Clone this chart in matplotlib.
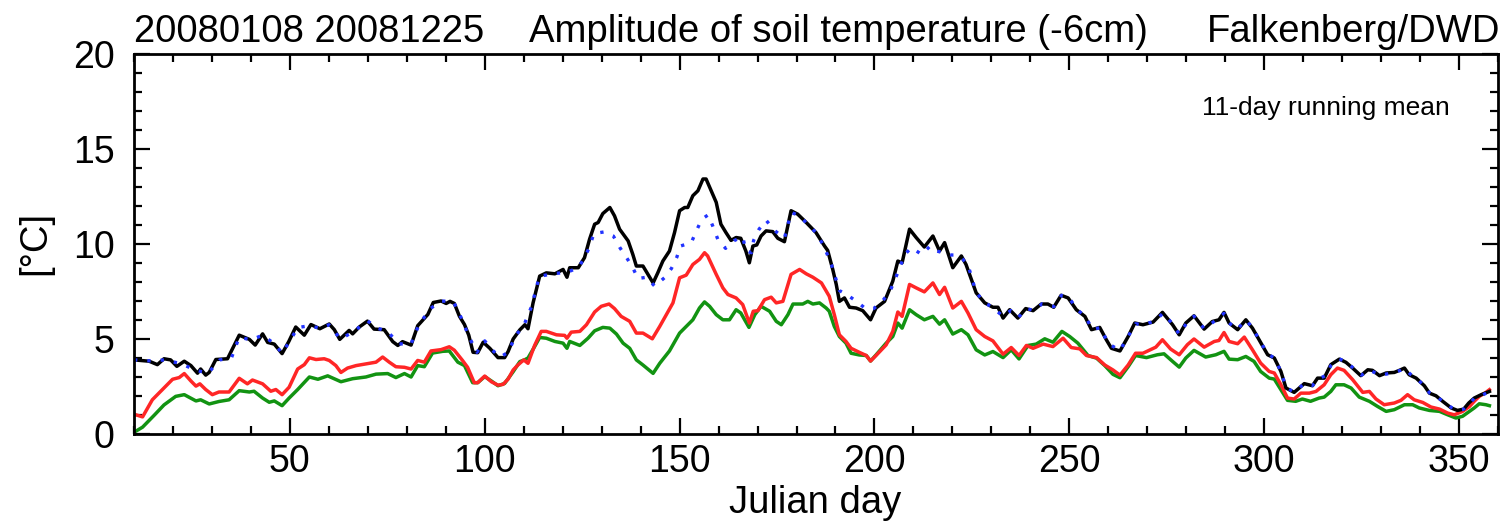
import numpy as np
import matplotlib
matplotlib.use("Agg")
import matplotlib.pyplot as plt
from matplotlib.ticker import MultipleLocator

# daily amplitude of soil temperature at -6cm (11-day running mean), Julian day / degC
black_day = [10, 13.9, 16, 17.7, 19.4, 21, 22.9, 24.6, 26.3, 27.1, 28.4, 29.3, 31, 34, 37, 39.6, 41.1, 43, 44.3, 46,
             48, 49.7, 51.5, 53.7, 55.4, 57.7, 60.1, 61.4, 62.8, 65.2, 66.1, 67.8, 69.9, 71.6, 74.2, 76.4, 77.7, 78.9,
             81.1, 82.8, 85.4, 86.8, 88.8, 90.1, 91.1, 92.2, 93.5, 94.8, 95.9, 97, 98.2, 99.6, 101.3, 103.4, 105.1,
             106, 107.3, 109, 110.3, 111.1, 112.4, 114.1, 115.8, 118, 120.1, 121.1, 121.8, 124, 125.6, 126.9, 128.2,
             129.1, 130.3, 132.1, 133.3, 134.6, 136.8, 138, 138.9, 140.6, 141.9, 143.2, 144.4, 145.7, 147.4, 148.7,
             150, 151.3, 152.1, 153.4, 154.7, 156, 156.8, 158.1, 159.4, 160.6, 161.9, 163.2, 164.5, 165.7, 167,
             167.9, 168.8, 169.8, 170.9, 172.2, 173.9, 175.2, 176.9, 178.6, 180.3, 182.5, 185, 187.2, 188, 189.3,
             190.2, 191, 192.3, 193.6, 195.3, 197, 199, 200.4, 202.6, 204.7, 206, 207.1, 209, 210.7, 212.8, 215,
             216.7, 218, 220.1, 222.3, 223.5, 226.1, 228.3, 230.4, 231.7, 233, 234.7, 236.8, 238.8, 240.7, 242.8,
             244.5, 246, 247.9, 249.7, 251.8, 254, 255.7, 257.8, 259.5, 260.8, 263, 265.1, 266.8, 268.9, 271.5,
             273.9, 276.5, 278.2, 279.9, 282, 284.6, 286.7, 288.4, 289.7, 291, 293.2, 295.3, 297, 299.1, 300.9,
             302.6, 304.3, 305.6, 307.7, 310.3, 312.4, 313.7, 315.4, 317.1, 319.3, 321, 322.7, 324.8, 326.6, 327.8,
             329.6, 331.3, 333.4, 334.7, 336, 337.2, 339, 341.1, 342.4, 344.1, 345.8, 348, 349.6, 351.2, 352.5,
             353.9, 355.7, 357.8]
black_val = [3.9, 3.83, 3.65, 3.96, 3.9, 3.56, 3.83, 3.6, 3.2, 3.42, 3.1, 3.24, 3.92, 3.96, 5.2, 4.98, 4.68, 5.27,
             4.82, 4.73, 4.23, 4.86, 5.63, 5.2, 5.76, 5.54, 5.79, 5.49, 4.98, 5.45, 5.27, 5.63, 5.94, 5.52, 5.49,
             4.86, 4.66, 4.86, 4.68, 5.7, 6.29, 6.92, 7.0, 6.87, 6.98, 6.87, 6.2, 5.76, 5.2, 4.3, 4.28, 4.83, 4.51,
             4.02, 4.02, 4.34, 5.0, 5.48, 5.75, 5.54, 6.9, 8.31, 8.48, 8.43, 8.66, 8.25, 8.75, 8.75, 9.28, 10.25,
             11.04, 11.13, 11.6, 11.92, 11.48, 10.78, 10.16, 9.45, 8.84, 8.84, 8.4, 7.95, 8.48, 9.1, 9.63, 10.6,
             11.75, 11.92, 11.92, 12.54, 12.8, 13.42, 13.42, 12.8, 12.19, 11.04, 10.6, 10.19, 10.34, 10.3, 9.63,
             9.01, 9.89, 9.95, 10.42, 10.69, 10.65, 10.3, 10.12, 11.75, 11.57, 11.13, 10.6, 9.89, 9.66, 8.66, 7.87,
             6.98, 7.16, 6.67, 6.63, 6.49, 6.01, 6.63, 6.98, 8.04, 9.1, 9.01, 10.78, 10.34, 9.84, 10.42, 9.63,
             10.07, 8.75, 9.37, 8.92, 7.43, 6.9, 6.67, 6.67, 6.1, 6.54, 6.1, 6.6, 6.49, 6.84, 6.84, 6.67, 7.3, 7.16,
             6.54, 6.19, 5.49, 5.61, 4.96, 4.51, 4.37, 5.13, 5.84, 5.75, 5.89, 6.4, 5.75, 5.22, 5.84, 6.22, 5.52,
             5.92, 6.01, 6.4, 5.84, 5.49, 6.01, 5.57, 4.82, 4.17, 4.0, 3.29, 2.42, 2.19, 2.65, 2.54, 2.94, 2.94,
             3.65, 3.94, 3.77, 3.47, 3.07, 3.38, 3.35, 3.07, 3.21, 3.24, 3.35, 3.47, 3.12, 2.94, 2.54, 2.15, 2.01,
             1.72, 1.37, 1.24, 1.31, 1.63, 1.89, 2.07, 2.24]

blue_day = [10, 14, 18, 22, 26, 29, 32, 35, 37, 40, 43, 46, 48, 50, 52, 55, 58, 60, 63, 66, 70, 72, 75, 78, 81, 83,
            86, 89, 92, 94, 96, 98, 100, 102, 104, 106, 108, 110, 112, 114, 118, 121, 124, 125.6, 126.8, 128, 130.5,
            133, 134.7, 136.4, 138, 139.3, 141.5, 143.6, 146.1, 147.9, 149.3, 150.2, 153, 154.3, 155.7, 157.3, 158.5,
            159.8, 161.8, 164.1, 166.2, 167, 168.4, 169, 170.4, 172.2, 174.3, 176.9, 178.6, 180.7, 182.8, 185, 187,
            189, 191, 193.5, 195.6, 197.7, 199.8, 202, 204, 206, 207.8, 209.5, 212.1, 214.3, 216, 217.6, 219.7, 221,
            222.7, 224, 226, 228, 230, 233, 235, 237, 239, 241, 243, 246, 248, 250, 252, 254, 256, 258, 260, 263,
            265, 267, 269, 272, 274, 276.5, 278.2, 280, 282, 284.6, 287, 289.7, 291, 293, 295.3, 297, 299, 301,
            302.6, 304.3, 305.6, 307.7, 310.3, 312.4, 314, 316, 317.1, 319.3, 321, 323, 325, 327, 330, 333, 335,
            336, 337.5, 339, 341, 342.5, 344, 346, 348, 349.6, 351.2, 353, 354, 356, 358]
blue_val = [3.9, 3.85, 3.9, 3.7, 3.35, 3.2, 3.9, 4.0, 5.1, 4.95, 5.2, 4.75, 4.25, 4.9, 5.6, 5.7, 5.55, 5.75, 5.0,
            5.35, 5.95, 5.6, 5.4, 4.75, 4.7, 5.7, 6.6, 7.0, 6.95, 6.1, 5.1, 4.3, 4.9, 4.4, 4.05, 4.3, 5.2, 5.7, 6.7,
            8.3, 8.45, 8.5, 8.75, 9.28, 9.8, 10.55, 10.63, 10.42, 9.8, 9.28, 8.75, 8.18, 8.25, 7.78, 8.22, 8.71,
            9.31, 9.89, 10.07, 10.69, 11.3, 11.53, 10.95, 10.25, 9.77, 10.19, 10.37, 9.66, 9.54, 10.19, 10.78,
            11.25, 10.72, 10.3, 11.66, 11.5, 11.05, 10.6, 9.9, 8.9, 7.55, 7.25, 6.95, 6.6, 6.6, 6.98, 7.51, 8.5,
            9.45, 9.81, 9.45, 9.89, 9.63, 9.54, 9.42, 9.42, 9.19, 8.9, 7.5, 6.95, 6.7, 6.2, 6.5, 6.15, 6.6, 6.5,
            6.85, 6.7, 7.3, 7.15, 6.55, 6.2, 5.5, 5.6, 4.75, 4.4, 5.1, 5.8, 5.75, 5.95, 6.35, 5.8, 5.25, 5.8, 6.2,
            5.55, 5.9, 6.35, 5.85, 5.5, 6.0, 5.6, 4.85, 4.2, 4.0, 3.3, 2.45, 2.2, 2.65, 2.55, 2.9, 3.1, 3.6, 3.95,
            3.8, 3.45, 3.1, 3.35, 3.1, 3.22, 3.35, 3.45, 3.15, 2.95, 2.55, 2.15, 2.0, 1.7, 1.4, 1.25, 1.3, 1.65,
            1.9, 2.05, 2.25]

red_day = [10, 12.2, 14.7, 17.3, 19.9, 21.6, 22.9, 24.6, 25.9, 26.9, 28.4, 30.1, 31.8, 34.4, 37, 39.1, 40.4, 43,
           45.1, 46.4, 48, 49.8, 52, 53.7, 55, 56.7, 58.8, 60.1, 61.8, 63.1, 64.8, 67, 69.5, 72.1, 73.8, 75.5, 77.2,
           79.4, 81.1, 82.8, 84.5, 86.2, 88.8, 90.9, 92.2, 94.3, 95.6, 97.3, 98.2, 100, 101.7, 103.4, 104.7, 106,
           107.3, 108.5, 110, 111.1, 112.8, 114.5, 115.8, 118.4, 120.5, 121.1, 122.2, 124.4, 126.1, 128.2, 129.9,
           131.9, 133.3, 135, 137.2, 138.9, 140.6, 143, 144.9, 146.6, 148.3, 150, 151.7, 153.4, 155.1, 156.4,
           157.2, 159.4, 161.1, 162.4, 164.5, 166.2, 167.9, 168.9, 170.1, 171.8, 173.5, 174.8, 176.5, 178.6, 180.8,
           182.5, 184.2, 186.4, 188.4, 189.7, 191, 192.7, 194, 196.1, 197.9, 199, 200.4, 203, 204.7, 206, 207.1,
           209, 210.7, 212.8, 215, 216.7, 218, 220.1, 222.3, 224, 226.1, 228.3, 230.4, 233, 235.1, 237.1, 239,
           240.7, 243.3, 245.8, 248.4, 250.5, 252.7, 254.4, 257, 259.1, 261.2, 263, 265.1, 267, 268.9, 271, 272.2,
           273.9, 276, 278.2, 280.3, 282, 284.6, 287.2, 288.4, 289.7, 291, 293.2, 294.9, 297, 299.1, 301.3, 302.6,
           304.3, 306, 307.7, 309.4, 311.6, 313.3, 315.4, 317.1, 318.8, 320.5, 322.7, 325.3, 327, 328.7, 330.8,
           333.4, 335.1, 336.8, 338.5, 340.7, 342.8, 345, 347.1, 348.8, 350.9, 352.7, 353.9, 355.2, 356.9, 357.8]
red_val = [1.04, 0.9, 1.8, 2.34, 2.88, 2.97, 3.18, 2.79, 2.52, 2.64, 2.34, 2.07, 2.21, 2.21, 2.93, 2.64, 2.84, 2.64,
           2.25, 2.34, 2.07, 2.46, 3.42, 3.65, 4.01, 3.92, 3.96, 3.87, 3.6, 3.24, 3.47, 3.6, 3.69, 3.78, 4.05, 3.78,
           3.54, 3.51, 3.42, 3.87, 3.78, 4.37, 4.44, 4.59, 4.41, 3.87, 3.51, 2.7, 2.7, 3.05, 2.75, 2.57, 2.61, 2.89,
           3.37, 3.63, 3.9, 3.72, 4.66, 5.4, 5.4, 5.22, 5.19, 5.04, 5.36, 5.4, 5.75, 6.42, 6.72, 6.84, 6.6, 6.19,
           5.93, 5.31, 5.31, 5.01, 5.66, 6.28, 6.9, 8.22, 8.36, 8.92, 9.19, 9.54, 9.37, 8.4, 7.69, 7.34, 7.16,
           6.81, 5.84, 6.46, 6.49, 7.07, 7.2, 6.9, 6.98, 8.4, 8.66, 8.43, 8.25, 7.95, 7.25, 6.28, 5.22, 4.87,
           4.51, 4.3, 4.13, 3.84, 4.13, 4.69, 5.4, 6.42, 6.19, 7.87, 7.69, 7.48, 7.95, 7.34, 7.72, 6.63, 6.98,
           6.37, 5.49, 5.13, 4.9, 4.2, 4.55, 4.13, 4.66, 4.51, 4.73, 4.6, 5.04, 4.55, 4.48, 4.13, 4.02, 3.63,
           3.37, 3.1, 3.63, 4.25, 4.25, 4.45, 4.57, 4.96, 4.47, 4.17, 4.7, 5.0, 4.57, 4.87, 4.92, 5.34, 4.87, 4.75,
           5.1, 4.43, 3.73, 3.29, 3.21, 2.59, 1.89, 1.84, 2.15, 2.15, 2.24, 2.59, 3.12, 3.47, 3.35, 2.86, 2.19,
           2.24, 1.84, 1.54, 1.63, 1.77, 2.07, 1.8, 1.66, 1.42, 1.31, 1.1, 1.01, 1.19, 1.45, 1.72, 1.98, 2.19, 2.33]

green_day = [10, 12.2, 15.2, 17.7, 20.7, 22.9, 25.9, 27.1, 29.3, 31.8, 34.4, 37, 39.6, 40.8, 43, 44.7, 46, 48, 49.8,
             52, 55, 57.2, 59.7, 63.1, 66.1, 69.5, 72.1, 75.1, 77.2, 79.4, 81.1, 82.8, 84.5, 86.6, 89.2, 90.9, 93.1,
             94.8, 96.9, 98.2, 100, 101.7, 103.4, 105.1, 107.3, 109, 110.2, 111.1, 112.8, 114.1, 115.8, 118, 120.1,
             121.1, 121.8, 124.4, 126.5, 128.2, 130.3, 132.1, 133.8, 135.5, 137.2, 138.9, 140.6, 143.2, 144.9,
             147.4, 150, 151.7, 153.4, 155.1, 156.4, 157.7, 159.4, 161.1, 162.8, 164.5, 165.7, 167.8, 169.3, 170.9,
             173.1, 174.8, 176.1, 177.8, 179.1, 181.6, 182.9, 184.2, 185.9, 187.6, 188.4, 189.7, 191, 192.7, 194,
             196.1, 197.9, 199, 200.4, 203, 204.7, 206, 207.1, 209, 210.7, 212.8, 215, 216.7, 218, 220.1, 222.3,
             224, 226.1, 228.3, 230.4, 233, 235.1, 237.1, 239.4, 241.5, 243.7, 245.8, 248.1, 250.1, 252.2, 254.8,
             257, 259.1, 261.2, 263, 265.1, 267, 269.8, 272.6, 274.3, 276.5, 278.2, 279.9, 282, 285, 287.6, 289.7,
             291, 293.2, 295.3, 297.4, 299.1, 301.3, 302.6, 304.3, 306, 308.1, 309.8, 311.9, 314.1, 315.4, 317.1,
             318.4, 320.5, 322.3, 324.4, 327, 329.1, 331.3, 333.4, 336, 338.1, 339.8, 342.4, 345, 347.1, 349.2,
             350.9, 352.7, 353.9, 355.2, 356.9, 357.8]
green_val = [0.09, 0.36, 0.99, 1.53, 1.98, 2.07, 1.74, 1.8, 1.58, 1.71, 1.8, 2.28, 2.21, 2.25, 1.89, 1.67, 1.74, 1.49,
             1.89, 2.34, 3.0, 2.88, 3.06, 2.75, 2.91, 3.0, 3.15, 3.18, 2.97, 3.18, 3.0, 3.6, 3.54, 4.26, 4.35, 4.37,
             3.78, 3.6, 2.7, 2.7, 3.02, 2.79, 2.54, 2.66, 3.28, 3.81, 3.9, 4.0, 4.6, 5.08, 5.04, 4.87, 4.78, 4.51,
             4.87, 4.66, 5.04, 5.43, 5.61, 5.57, 5.26, 4.78, 4.51, 3.9, 3.63, 3.19, 3.72, 4.37, 5.31, 5.66, 6.01,
             6.63, 6.95, 6.72, 6.28, 6.01, 6.01, 6.54, 6.37, 5.61, 6.28, 6.72, 6.46, 5.93, 5.75, 6.28, 6.84, 6.84,
             6.98, 6.84, 6.9, 6.63, 6.46, 5.66, 5.13, 4.78, 4.25, 4.16, 4.13, 3.84, 4.16, 4.78, 5.13, 5.84, 5.57,
             6.54, 6.28, 6.01, 6.19, 5.78, 6.01, 5.26, 5.49, 5.22, 4.43, 4.16, 4.34, 4.02, 4.43, 3.95, 4.66, 4.73,
             5.01, 4.83, 5.4, 5.13, 4.78, 4.13, 3.99, 3.6, 3.14, 2.96, 3.54, 4.13, 4.02, 4.17, 4.22, 3.82, 3.52,
             4.0, 4.4, 4.05, 4.17, 4.35, 3.94, 3.91, 4.08, 3.82, 3.29, 2.94, 2.89, 2.33, 1.77, 1.72, 1.84, 1.72,
             1.89, 1.94, 2.24, 2.59, 2.59, 2.42, 1.94, 1.72, 1.45, 1.19, 1.28, 1.54, 1.54, 1.37, 1.24, 1.19, 1.01,
             0.84, 0.93, 1.19, 1.37, 1.59, 1.54, 1.49]

plt.rcParams['font.family'] = ['Liberation Sans', 'DejaVu Sans']

fig = plt.figure(figsize=(15.09, 5.22), dpi=100)
ax = fig.add_axes([0.0888, 0.1686, 0.9039, 0.7280])

ax.plot(green_day, green_val, color='#129312', lw=2.5)
ax.plot(red_day, red_val, color='#ff2626', lw=2.5)
ax.plot(black_day, black_val, color='black', lw=2.5)
ax.plot(blue_day, blue_val, color='#2233ff', lw=2.4, linestyle=(0, (1, 3.0)))

ax.set_xlim(10, 360)
ax.set_ylim(0, 20)
ax.xaxis.set_major_locator(MultipleLocator(50))
ax.xaxis.set_minor_locator(MultipleLocator(10))
ax.yaxis.set_major_locator(MultipleLocator(5))
ax.yaxis.set_minor_locator(MultipleLocator(1))
ax.tick_params(which='both', direction='in', top=True, right=True, width=1.6, labelsize=27)
ax.tick_params(which='major', length=11.5)
ax.tick_params(which='minor', length=5.8)
ax.tick_params(axis='y', pad=14)
ax.tick_params(axis='x', pad=7)
for sp in ax.spines.values():
    sp.set_linewidth(2.0)

ax.text(0.965, 0.84, '11-day running mean', transform=ax.transAxes, ha='right', va='baseline', fontsize=19)

fig.text(0.0888, 0.9195, '20080108 20081225', ha='left', va='baseline', fontsize=27.5)
fig.text(0.5553, 0.9195, 'Amplitude of soil temperature (-6cm)', ha='center', va='baseline', fontsize=27.5)
fig.text(0.994, 0.9195, 'Falkenberg/DWD', ha='right', va='baseline', fontsize=27.5)
fig.text(0.0232, 0.534, '[°C]', rotation=90, ha='center', va='center', fontsize=27.5)
fig.text(0.5405, 0.0175, 'Julian day', ha='center', va='baseline', fontsize=27.5)

fig.savefig('out.png', dpi=100)
